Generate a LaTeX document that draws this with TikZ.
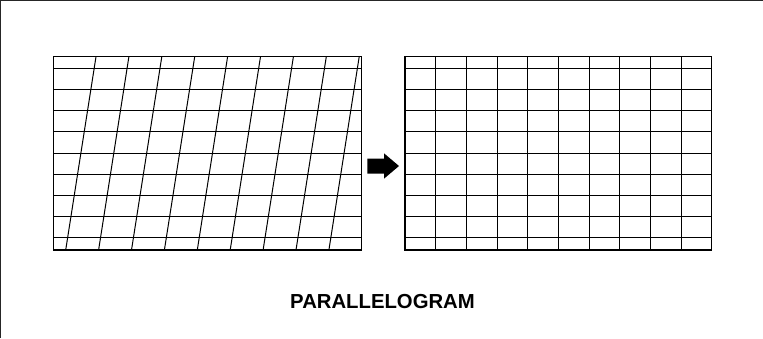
\documentclass[tikz,border=0pt]{standalone}
\usepackage{fontspec}
\setmainfont{Liberation Sans}
\begin{document}
\begin{tikzpicture}[x=1pt,y=-1pt,
  gridline/.style={line width=1pt,black},
  gridborder/.style={line width=1.3pt,black},
  framebar/.style={line width=1.4pt,black!85}]
\useasboundingbox (0,0) rectangle (763,338);
% cropped outer frame
\draw[framebar] (0.7,338) -- (0.7,0.7) -- (763,0.7);
% left (slanted) grid
\foreach \k in {0,...,8}{
  \draw[gridline] (53.7,{68.3+21.2*\k}) -- (361.7,{68.3+21.2*\k});
  \draw[gridline] ({96+32.9*\k},56.7) -- ({65.7+32.9*\k},250);
}
\draw[gridborder] (53.7,56.7) rectangle (361.7,250);
% arrow
\fill[black] (367.3,158.5) -- (384,158.5) -- (384,153.3) -- (399,166) -- (384,178.7) -- (384,173.5) -- (367.3,173.5) -- cycle;
% right (rectangular) grid
\foreach \k in {0,...,8}{
  \draw[gridline] (405,{68.3+21.2*\k}) -- (711.7,{68.3+21.2*\k});
}
\foreach \k in {1,...,9}{
  \draw[gridline] ({405+30.67*\k},56.7) -- ({405+30.67*\k},250);
}
\draw[gridborder] (405,56.7) rectangle (711.7,250);
% caption
\node[font=\bfseries\fontsize{20.3}{24}\selectfont] (caption) at (382.5,301.7) {PARALLELOGRAM};
\end{tikzpicture}
\end{document}
